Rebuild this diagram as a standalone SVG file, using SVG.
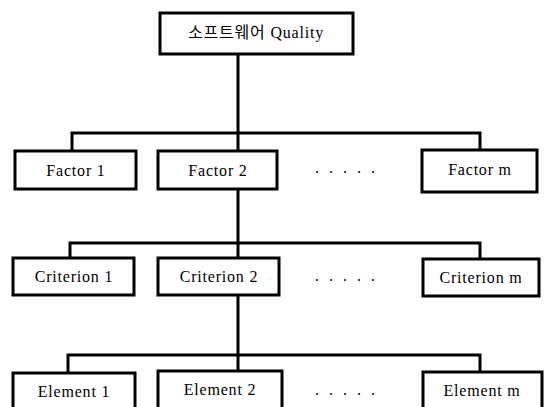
<svg xmlns="http://www.w3.org/2000/svg" width="546" height="407" viewBox="0 0 546 407">
<style>
.box{fill:#fff;stroke:#000;stroke-width:3}
.t{font-family:"Liberation Serif","Noto Sans CJK KR",serif;font-size:16px;letter-spacing:0.8px;text-anchor:middle;fill:#000}
.d{font-family:"Liberation Serif",serif;font-size:16px;fill:#000}
.c{fill:none;stroke:#000;stroke-width:3}
</style>
<rect width="546" height="407" fill="#fff"/>
<g id="connectors">
<path class="c" d="M238 54V151M72 151V133H480V150"/>
<path class="c" d="M238 189V258M70 258V243H480V259"/>
<path class="c" d="M238 295V371M68 373V355H480V372"/>
</g>
<g id="quality"><rect class="box" x="160" y="13" width="193" height="41"/><text class="t" x="256" y="38">소프트웨어 Quality</text></g>
<g id="factor1"><rect class="box" x="15" y="151" width="121" height="38"/><text class="t" x="76" y="176">Factor 1</text></g>
<g id="factor2"><rect class="box" x="158" y="151" width="119" height="38"/><text class="t" x="218" y="176">Factor 2</text></g>
<g id="factorm"><rect class="box" x="422" y="150" width="115" height="42"/><text class="t" x="480" y="175">Factor m</text></g>
<g id="criterion1"><rect class="box" x="13" y="258" width="121" height="37"/><text class="t" x="74" y="282">Criterion 1</text></g>
<g id="criterion2"><rect class="box" x="158" y="258" width="121" height="37"/><text class="t" x="219" y="282">Criterion 2</text></g>
<g id="criterionm"><rect class="box" x="423" y="259" width="116" height="37"/><text class="t" x="481" y="283">Criterion m</text></g>
<g id="element1"><rect class="box" x="13" y="373" width="122" height="40"/><text class="t" x="74" y="397">Element 1</text></g>
<g id="element2"><rect class="box" x="158" y="371" width="124" height="40"/><text class="t" x="220" y="395">Element 2</text></g>
<g id="elementm"><rect class="box" x="423" y="372" width="119" height="40"/><text class="t" x="482" y="396">Element m</text></g>
<g id="dots">
<text class="d" x="315 329 343 357 371" y="173">.....</text>
<text class="d" x="315 329 343 357 371" y="281">.....</text>
<text class="d" x="315 329 343 357 371" y="395">.....</text>
</g>
</svg>
